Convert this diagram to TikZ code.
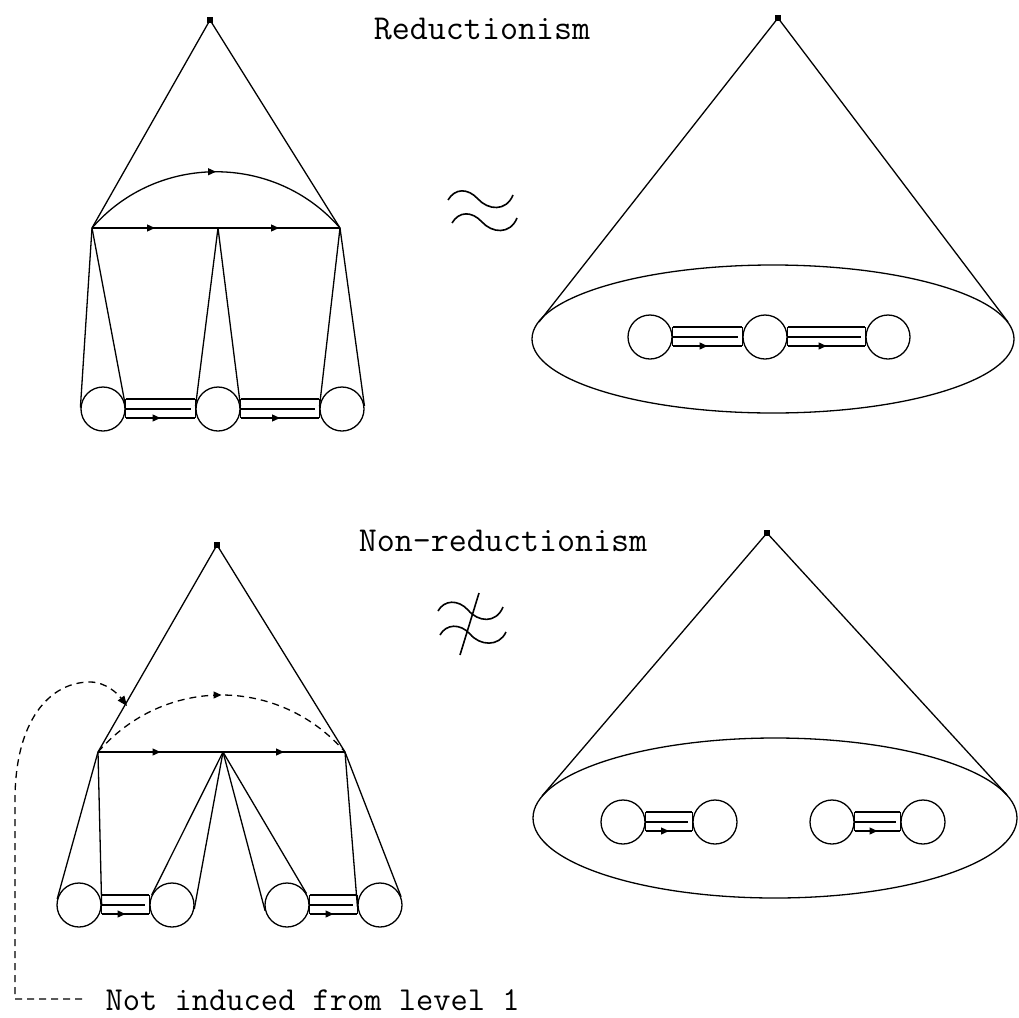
\documentclass[tikz,border=0pt]{standalone}
\usepackage{fontspec}
\usetikzlibrary{calc,arrows.meta,decorations.markings,shapes.geometric}
\newcommand\mybar[2]{%
  \draw ($(#1.east)+(0,-10)$) -- ($(#2.west)+(0,-10)$);
  \draw[midarrow] ($(#1.east)+(0,9)$) -- ($(#2.west)+(0,9)$);
  \draw ($(#1.east)+(0,0)$) -- ($(#2.west)+(-4,0)$);
  \draw ($(#1.east)+(0,-10)$) -- ($(#1.east)+(0,9)$);
  \draw ($(#2.west)+(0,-10)$) -- ($(#2.west)+(0,9)$);
}
\newcommand\mytan[2]{%
  \draw (#1) -- (tangent cs:node=#2,point={(#1)},solution=1);
  \draw (#1) -- (tangent cs:node=#2,point={(#1)},solution=2);
}
\begin{document}
\begin{tikzpicture}[x=1pt,y=-1pt,line width=1.3pt,
  dot/.style={fill,draw=none,minimum size=6pt,inner sep=0pt},
  ball/.style={circle,draw,minimum size=44pt,inner sep=0pt},
  oval/.style={ellipse,draw,inner sep=0pt},
  lbl/.style={font=\ttfamily\fontsize{35}{40}\selectfont,inner sep=0pt},
  lbls/.style={font=\ttfamily\fontsize{33.5}{38}\selectfont,inner sep=0pt},
  midarrow/.style={postaction={decorate},decoration={markings,mark=at position 0.5 with {\arrow{Triangle[length=8pt,width=7pt]}}}},
  dsh/.style={dash pattern=on 7pt off 5pt},
  wave/.style={line width=1.6pt}
]
\useasboundingbox (0,0) rectangle (1019,1017);

% ---------- labels
\node[lbl,anchor=base] (t1) at (482,39) {Reductionism};
\node[lbl,anchor=base] (t2) at (503,551) {Non-reductionism};
\node[lbls,anchor=base west] (t3) at (105,1010) {Not induced from level 1};

% ---------- top left
\node[dot] (a1) at (210,20) {};
\coordinate (v1) at (92,228);
\coordinate (v2) at (218,228);
\coordinate (v3) at (340,228);
\draw (a1.center) -- (v1);
\draw (a1.center) -- (v3);
\draw[midarrow] (v1) .. controls (157,153) and (275,153) .. (v3);
\draw[midarrow] (v1) -- (v2);
\draw[midarrow] (v2) -- (v3);
\node[ball] (c1) at (103,409) {};
\node[ball] (c2) at (218,409) {};
\node[ball] (c3) at (342,409) {};
\mytan{v1}{c1}
\mytan{v2}{c2}
\mytan{v3}{c3}
\mybar{c1}{c2}
\mybar{c2}{c3}

% ---------- approx symbol
\draw[wave] (448,200) .. controls (455,188) and (468,188) .. (478,199) .. controls (488,210) and (506,212) .. (513,195);
\draw[wave] (452,223) .. controls (459,211) and (472,211) .. (482,222) .. controls (492,233) and (510,235) .. (517,218);

% ---------- top right
\node[dot] (b1) at (778,18) {};
\node[oval,minimum width=482pt,minimum height=148pt] (E1) at (773,339) {};
\coordinate (p1) at (539,322);
\coordinate (p2) at (1008,322);
\draw (b1.center) -- (p1);
\draw (b1.center) -- (p2);
\node[ball] (e1) at (650,337) {};
\node[ball] (e2) at (765,337) {};
\node[ball] (e3) at (888,337) {};
\mybar{e1}{e2}
\mybar{e2}{e3}

% ---------- bottom left
\node[dot] (a2) at (217,545) {};
\coordinate (w1) at (98,752);
\coordinate (w2) at (223,752);
\coordinate (w3) at (345,752);
\draw (a2.center) -- (w1);
\draw (a2.center) -- (w3);
\draw[midarrow,dsh] (w1) .. controls (164,676) and (279,676) .. (w3);
\draw[midarrow] (w1) -- (w2);
\draw[midarrow] (w2) -- (w3);
\node[ball] (d1) at (79,905) {};
\node[ball] (d2) at (172,905) {};
\node[ball] (d3) at (287,905) {};
\node[ball] (d4) at (380,905) {};
\mytan{w1}{d1}
\mytan{w2}{d2}
\mytan{w2}{d3}
\mytan{w3}{d4}
\mybar{d1}{d2}
\mybar{d3}{d4}

% not induced connector
\coordinate (nstart) at (82,999);
\coordinate (nend) at (127,706);
\draw[dsh,-{Triangle[length=10pt,width=8pt]}] (nstart) -- (15,999) -- (15,800)
  .. controls (15,720) and (50,682) .. (90,682) .. controls (106,682) and (118,694) .. (nend);

% ---------- not approx symbol
\draw[wave] (438,611) .. controls (444,600) and (458,599) .. (468,610) .. controls (478,622) and (496,624) .. (503,607);
\draw[wave] (440,635) .. controls (446,624) and (460,623) .. (470,634) .. controls (480,646) and (499,647) .. (506,632);
\draw[wave] (479,593) -- (460,655);

% ---------- bottom right
\node[dot] (b2) at (767,533) {};
\node[oval,minimum width=484pt,minimum height=160pt] (E2) at (775,818) {};
\coordinate (q1) at (542,796);
\coordinate (q2) at (1007,795);
\draw (b2.center) -- (q1);
\draw (b2.center) -- (q2);
\node[ball] (f1) at (623,822) {};
\node[ball] (f2) at (715,822) {};
\node[ball] (f3) at (832,822) {};
\node[ball] (f4) at (923,822) {};
\mybar{f1}{f2}
\mybar{f3}{f4}
\end{tikzpicture}
\end{document}
